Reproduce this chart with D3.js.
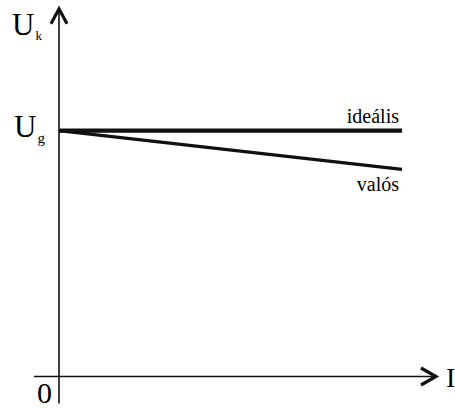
<!DOCTYPE html>
<html><head><meta charset="utf-8">
<script src="https://cdn.jsdelivr.net/npm/d3@7"></script>
</head>
<body style="margin:0"><svg id="c" width="455" height="408"></svg>
<script>
// Data
const currentI = [0, 1];             // normalized current
const idealValues = [1, 1];          // U_k / U_g ideal
const realValues = [1, 0.843];       // U_k / U_g real
const seriesLabels = ["ideális", "valós"];
const axisLabels = {y: "U", ySub: "k", x: "I", origin: "0", ug: "U", ugSub: "g"};

const svg = d3.select("#c");
const ink = "#111";
const serifFont = "Liberation Serif";

const x = d3.scaleLinear().domain([0, 1]).range([59, 402]);
const y = d3.scaleLinear().domain([0, 1]).range([376.5, 130.7]);

function txt(size) {
  return svg.append("text").attr("font-size", size).attr("font-family", serifFont);
}

// axes
const xStart = x(-0.073), xEnd = x(1.102);
const yBottom = y(-0.11), yTop = y(1.5);
svg.append("line").attr("x1", xStart).attr("x2", xEnd).attr("y1", y(0)).attr("y2", y(0))
  .attr("stroke", ink).attr("stroke-width", 1.6);
svg.append("line").attr("x1", x(0)).attr("x2", x(0)).attr("y1", yBottom).attr("y2", yTop)
  .attr("stroke", ink).attr("stroke-width", 1.6);

// arrowheads (open chevrons)
svg.append("path")
  .attr("d", `M${x(0)-8},${yTop+16}L${x(0)},${yTop+1}L${x(0)+8},${yTop+16}`)
  .attr("fill", "none").attr("stroke", ink).attr("stroke-width", 3.2).attr("stroke-linejoin", "miter");
svg.append("path")
  .attr("d", `M${xEnd-16},${y(0)-8.5}L${xEnd-1},${y(0)}L${xEnd-16},${y(0)+8.5}`)
  .attr("fill", "none").attr("stroke", ink).attr("stroke-width", 3.2).attr("stroke-linejoin", "miter");

// series
const line = d3.line().x((d, i) => x(currentI[i])).y(d => y(d));
svg.append("path").datum(realValues).attr("d", line)
  .attr("fill", "none").attr("stroke", ink).attr("stroke-width", 3.2);
svg.append("path").datum(idealValues).attr("d", line)
  .attr("fill", "none").attr("stroke", ink).attr("stroke-width", 4.2);

// labels
txt(20).attr("x", x(1) - 3).attr("y", y(1) - 7.5).attr("text-anchor", "end").text(seriesLabels[0]);
txt(20).attr("x", x(1) - 3).attr("y", y(realValues[1]) + 22).attr("text-anchor", "end").text(seriesLabels[1]);

const uk = txt(31).attr("x", 12).attr("y", 35);
uk.append("tspan").text(axisLabels.y);
uk.append("tspan").attr("font-size", 13).attr("dy", 5).attr("dx", 1).text(axisLabels.ySub);

const ug = txt(31).attr("x", 14).attr("y", y(1) + 6.5);
ug.append("tspan").text(axisLabels.ug);
ug.append("tspan").attr("font-size", 15).attr("dy", 6).attr("dx", 1).text(axisLabels.ugSub);

txt(30).attr("x", 37).attr("y", 403).text(axisLabels.origin);
txt(28).attr("x", 446).attr("y", 387).text(axisLabels.x);
</script></body></html>
